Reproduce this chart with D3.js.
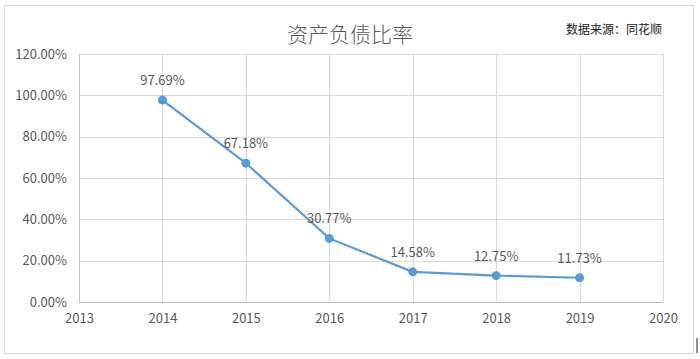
<!DOCTYPE html>
<html><head><meta charset="utf-8">
<script src="https://cdn.jsdelivr.net/npm/d3@7"></script>
<style>body{margin:0;background:#fff}</style>
</head><body>
<svg id="c" width="700" height="359"></svg>
<script>
const years = [2014, 2015, 2016, 2017, 2018, 2019];
const values = [97.69, 67.18, 30.77, 14.58, 12.75, 11.73];
const xTicks = [2013, 2014, 2015, 2016, 2017, 2018, 2019, 2020];
const yTicks = [0, 20, 40, 60, 80, 100, 120];
const title = "资产负债比率";
const source = "数据来源：同花顺";

const svg = d3.select("#c");
const font = "'Noto Sans CJK SC', 'Noto Sans', sans-serif";
svg.append("rect").attr("x",4.5).attr("y",5.5).attr("width",689).attr("height",348)
  .attr("fill","#fff").attr("stroke","#d9d9d9");
svg.append("line").attr("x1",697).attr("x2",697).attr("y1",338).attr("y2",353).attr("stroke","#444").attr("stroke-width",1.2);

const L=79, R=663, T=54, B=302;
const x = d3.scaleLinear().domain([2013,2020]).range([L,R]);
const y = d3.scaleLinear().domain([0,120]).range([B,T]);

const g = svg.append("g");
g.selectAll(".hg").data(yTicks.filter(d=>d>0)).join("line")
  .attr("x1",L).attr("x2",R).attr("y1",d=>Math.round(y(d))+0.5).attr("y2",d=>Math.round(y(d))+0.5)
  .attr("stroke","#d9d9d9").attr("stroke-width",1);
g.selectAll(".vg").data(xTicks.filter(d=>d>2013)).join("line")
  .attr("y1",T).attr("y2",B).attr("x1",d=>Math.round(x(d))+0.5).attr("x2",d=>Math.round(x(d))+0.5)
  .attr("stroke","#d9d9d9").attr("stroke-width",1);
// axes lines
g.append("line").attr("x1",L+0.5).attr("x2",L+0.5).attr("y1",T).attr("y2",B).attr("stroke","#bfbfbf");
g.append("line").attr("x1",L).attr("x2",R).attr("y1",B+0.5).attr("y2",B+0.5).attr("stroke","#bfbfbf");

// y tick labels
const yAxis = d3.axisLeft(y).tickValues(yTicks).tickSize(0).tickPadding(12).tickFormat(d=>d.toFixed(2)+"%");
const ya = svg.append("g").attr("transform",`translate(${L},0)`).call(yAxis);
ya.select(".domain").remove();
ya.selectAll("text").attr("font-family",font).attr("font-size",13).attr("fill","#595959");

const xAxis = d3.axisBottom(x).tickValues(xTicks).tickSize(0).tickPadding(12).tickFormat(d3.format("d"));
const xa = svg.append("g").attr("transform",`translate(0,${B})`).call(xAxis);
xa.select(".domain").remove();
xa.selectAll("text").attr("font-family",font).attr("font-size",13).attr("fill","#595959");

const line = d3.line().x((d,i)=>x(years[i])).y(d=>y(d));
svg.append("path").datum(values).attr("d",line).attr("fill","none").attr("stroke","#5b9bd5").attr("stroke-width",2.2);
svg.selectAll(".pt").data(values).join("circle")
  .attr("cx",(d,i)=>x(years[i])).attr("cy",d=>y(d)).attr("r",4.5).attr("fill","#5b9bd5");
svg.selectAll(".lb").data(values).join("text")
  .attr("x",(d,i)=>x(years[i])).attr("y",d=>y(d)-15)
  .attr("text-anchor","middle").attr("font-family",font).attr("font-size",13).attr("fill","#595959")
  .text(d=>d.toFixed(2)+"%");

svg.append("text").attr("x",350).attr("y",42).attr("text-anchor","middle")
  .attr("font-family",font).attr("font-size",21).attr("font-weight",300).attr("fill","#595959").text(title);
svg.append("text").attr("x",566).attr("y",34)
  .attr("font-family",font).attr("font-size",12).attr("fill","#222").text(source);
</script>
</body></html>
